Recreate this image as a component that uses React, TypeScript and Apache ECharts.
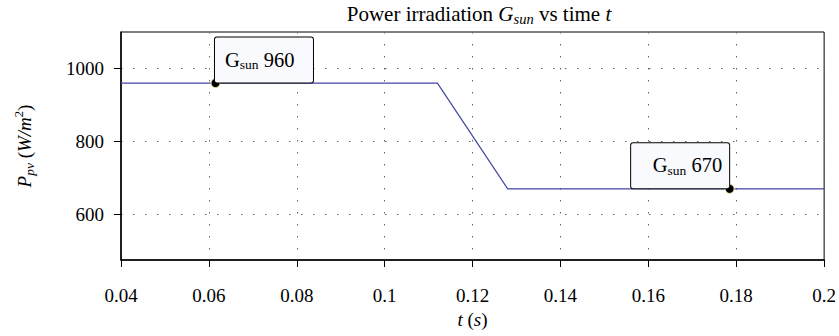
import React, { useEffect, useRef } from "react";
import * as echarts from "echarts";

const timeValues = [0.04, 0.112, 0.128, 0.2];
const irradiance = [960, 960, 670, 670];
const markerPoints: [number, number][] = [
  [0.0615, 960],
  [0.1785, 670],
];
const xTicks = [0.04, 0.06, 0.08, 0.1, 0.12, 0.14, 0.16, 0.18, 0.2];
const yTicks = [600, 800, 1000];

const FONT = "Liberation Serif";

export default function App() {
  const ref = useRef<HTMLDivElement>(null);
  useEffect(() => {
    document.body.style.margin = "0";
    const chart = echarts.init(ref.current!, null, { renderer: "svg" });
    const lineData = timeValues.map((t, i) => [t, irradiance[i]]);
    const sub = { fontFamily: FONT, fontSize: 13.5, color: "#000", verticalAlign: "bottom", lineHeight: 24 };
    const base = { fontFamily: FONT, fontSize: 20.5, color: "#000", lineHeight: 24 };
    chart.setOption({
      animation: false,
      backgroundColor: "#fff",
      title: {
        text: "{r|Power irradiation }{i|G}{isub|sun}{r| vs time }{i|t}",
        left: 474,
        textAlign: "center",
        top: -3,
        textStyle: {
          fontFamily: FONT,
          fontSize: 21,
          fontWeight: "normal",
          color: "#000",
          lineHeight: 24,
          rich: {
            r: { fontFamily: FONT, fontSize: 21, color: "#000", lineHeight: 24 },
            i: { fontFamily: FONT, fontSize: 21, fontStyle: "italic", color: "#000", lineHeight: 24 },
            isub: { fontFamily: FONT, fontSize: 14.5, fontStyle: "italic", color: "#000", verticalAlign: "bottom", lineHeight: 24 },
          },
        },
      },
      grid: {
        left: 121,
        right: 11,
        top: 32,
        bottom: 76,
        show: true,
        borderColor: "#000",
        borderWidth: 1,
        backgroundColor: "transparent",
      },
      xAxis: {
        type: "value",
        min: 0.04,
        max: 0.2,
        name: "{i|t}{r| (}{i|s}{r|)}",
        nameLocation: "middle",
        nameGap: 50,
        nameMoveOverlap: false,
        nameTextStyle: {
          fontFamily: FONT,
          fontSize: 19,
          fontWeight: "normal",
          color: "#000",
          rich: {
            r: { fontFamily: FONT, fontSize: 19, fontWeight: "normal", color: "#000" },
            i: { fontFamily: FONT, fontSize: 19, fontWeight: "normal", fontStyle: "italic", color: "#000" },
          },
        },
        axisLine: { show: true, onZero: false, lineStyle: { color: "#000", width: 1.5 } },
        axisTick: { show: true, inside: false, length: 7, customValues: xTicks, lineStyle: { color: "#000", width: 1 } },
        axisLabel: {
          customValues: xTicks,
          margin: 26,
          fontFamily: FONT,
          fontWeight: "normal",
          fontSize: 19,
          color: "#000",
          formatter: (v: number) => String(parseFloat(v.toFixed(4))),
        },
        splitLine: { show: true, lineStyle: { color: "#666", width: 1, type: [1.5, 10.5] } },
      },
      yAxis: {
        type: "value",
        min: 475,
        max: 1100,
        name: "{i|P}{isub|pv}{r| (}{i|W/m}{sup|2}{r|)}",
        nameLocation: "middle",
        nameRotate: 90,
        nameGap: 85,
        nameMoveOverlap: false,
        nameTextStyle: {
          fontFamily: FONT,
          fontSize: 19,
          fontWeight: "normal",
          color: "#000",
          lineHeight: 24,
          rich: {
            r: { fontFamily: FONT, fontSize: 19, color: "#000", lineHeight: 24 },
            i: { fontFamily: FONT, fontSize: 19, fontStyle: "italic", color: "#000", lineHeight: 24 },
            isub: { fontFamily: FONT, fontSize: 13.5, fontStyle: "italic", color: "#000", verticalAlign: "bottom", lineHeight: 24 },
            sup: { fontFamily: FONT, fontSize: 12.5, color: "#000", verticalAlign: "top", lineHeight: 24 },
          },
        },
        axisLine: { show: true, onZero: false, lineStyle: { color: "#000", width: 1.5 } },
        axisTick: { show: true, inside: false, length: 7, customValues: yTicks, lineStyle: { color: "#000", width: 1 } },
        axisLabel: {
          customValues: yTicks,
          margin: 17,
          fontFamily: FONT,
          fontWeight: "normal",
          fontSize: 19,
          color: "#000",
          formatter: (v: number) => String(v),
        },
        splitLine: { show: true, lineStyle: { color: "#666", width: 1, type: [1.5, 10.5] } },
      },
      series: [
        {
          type: "line",
          data: lineData,
          showSymbol: false,
          lineStyle: { color: "#4146a6", width: 1.2 },
          silent: true,
        },
        {
          type: "scatter",
          symbol: "circle",
          symbolSize: 9,
          itemStyle: { color: "#000", borderColor: "#f4e9b0", borderWidth: 1, opacity: 1 },
          data: [
            {
              value: markerPoints[0],
              label: {
                show: true,
                position: [4.5, 4.5],
                align: "left",
                verticalAlign: "bottom",
                formatter: "{b|G}{sub|sun}{b| 960}",
                fontFamily: FONT,
                fontSize: 20.5,
                fontWeight: "normal",
                color: "#000",
                lineHeight: 24,
                width: 78,
                height: 25,
                padding: [10, 10, 10, 10],
                backgroundColor: "#f9fafd",
                borderColor: "#000",
                borderWidth: 1,
                borderRadius: 2,
                rich: { b: base, sub },
              },
            },
            {
              value: markerPoints[1],
              label: {
                show: true,
                position: [4.5, 4.5],
                align: "right",
                verticalAlign: "bottom",
                formatter: "{b|G}{sub|sun}{b| 670}",
                fontFamily: FONT,
                fontSize: 20.5,
                fontWeight: "normal",
                color: "#000",
                lineHeight: 24,
                width: 84,
                height: 25,
                padding: [10, 7, 10, 7],
                backgroundColor: "#f9fafd",
                borderColor: "#000",
                borderWidth: 1,
                borderRadius: 2,
                rich: { b: base, sub },
              },
            },
          ],
          z: 5,
        },
      ],
    });
    return () => chart.dispose();
  }, []);
  return <div ref={ref} style={{ width: 839, height: 336 }} />;
}
